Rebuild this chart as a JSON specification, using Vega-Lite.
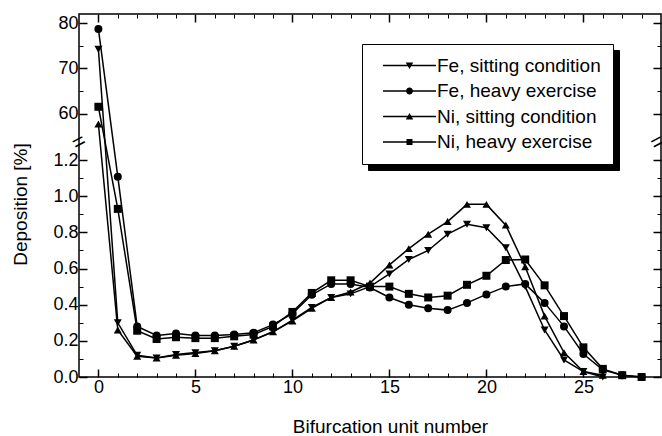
{
  "$schema": "https://vega.github.io/schema/vega-lite/v6.json",
  "width": 582,
  "height": 363,
  "autosize": {"type": "none"},
  "padding": {"left": 79, "top": 14, "right": 1, "bottom": 59},
  "background": "white",
  "config": {
    "font": "Liberation Sans",
    "view": {"stroke": "black", "strokeWidth": 1.5},
    "axis": {
      "grid": false,
      "domain": false,
      "tickColor": "black",
      "labelColor": "black",
      "titleColor": "black",
      "labelFont": "Liberation Sans",
      "titleFont": "Liberation Sans",
      "labelFontSize": 18,
      "titleFontSize": 19,
      "titleFontWeight": "normal"
    }
  },
  "datasets": {
    "series": [
      {"series": "Fe, sitting condition", "x": 0, "y": 74.2},
      {"series": "Fe, sitting condition", "x": 1, "y": 0.30},
      {"series": "Fe, sitting condition", "x": 2, "y": 0.12},
      {"series": "Fe, sitting condition", "x": 3, "y": 0.105},
      {"series": "Fe, sitting condition", "x": 4, "y": 0.125},
      {"series": "Fe, sitting condition", "x": 5, "y": 0.135},
      {"series": "Fe, sitting condition", "x": 6, "y": 0.145},
      {"series": "Fe, sitting condition", "x": 7, "y": 0.17},
      {"series": "Fe, sitting condition", "x": 8, "y": 0.205},
      {"series": "Fe, sitting condition", "x": 9, "y": 0.25},
      {"series": "Fe, sitting condition", "x": 10, "y": 0.315},
      {"series": "Fe, sitting condition", "x": 11, "y": 0.385},
      {"series": "Fe, sitting condition", "x": 12, "y": 0.44},
      {"series": "Fe, sitting condition", "x": 13, "y": 0.46},
      {"series": "Fe, sitting condition", "x": 14, "y": 0.50},
      {"series": "Fe, sitting condition", "x": 15, "y": 0.57},
      {"series": "Fe, sitting condition", "x": 16, "y": 0.65},
      {"series": "Fe, sitting condition", "x": 17, "y": 0.70},
      {"series": "Fe, sitting condition", "x": 18, "y": 0.79},
      {"series": "Fe, sitting condition", "x": 19, "y": 0.845},
      {"series": "Fe, sitting condition", "x": 20, "y": 0.826},
      {"series": "Fe, sitting condition", "x": 21, "y": 0.715},
      {"series": "Fe, sitting condition", "x": 22, "y": 0.50},
      {"series": "Fe, sitting condition", "x": 23, "y": 0.26},
      {"series": "Fe, sitting condition", "x": 24, "y": 0.094},
      {"series": "Fe, sitting condition", "x": 25, "y": 0.03},
      {"series": "Fe, sitting condition", "x": 26, "y": 0.0},
      {"series": "Fe, heavy exercise", "x": 0, "y": 78.7},
      {"series": "Fe, heavy exercise", "x": 1, "y": 1.108},
      {"series": "Fe, heavy exercise", "x": 2, "y": 0.28},
      {"series": "Fe, heavy exercise", "x": 3, "y": 0.23},
      {"series": "Fe, heavy exercise", "x": 4, "y": 0.24},
      {"series": "Fe, heavy exercise", "x": 5, "y": 0.23},
      {"series": "Fe, heavy exercise", "x": 6, "y": 0.23},
      {"series": "Fe, heavy exercise", "x": 7, "y": 0.235},
      {"series": "Fe, heavy exercise", "x": 8, "y": 0.245},
      {"series": "Fe, heavy exercise", "x": 9, "y": 0.29},
      {"series": "Fe, heavy exercise", "x": 10, "y": 0.35},
      {"series": "Fe, heavy exercise", "x": 11, "y": 0.455},
      {"series": "Fe, heavy exercise", "x": 12, "y": 0.515},
      {"series": "Fe, heavy exercise", "x": 13, "y": 0.515},
      {"series": "Fe, heavy exercise", "x": 14, "y": 0.495},
      {"series": "Fe, heavy exercise", "x": 15, "y": 0.44},
      {"series": "Fe, heavy exercise", "x": 16, "y": 0.40},
      {"series": "Fe, heavy exercise", "x": 17, "y": 0.38},
      {"series": "Fe, heavy exercise", "x": 18, "y": 0.37},
      {"series": "Fe, heavy exercise", "x": 19, "y": 0.41},
      {"series": "Fe, heavy exercise", "x": 20, "y": 0.457},
      {"series": "Fe, heavy exercise", "x": 21, "y": 0.50},
      {"series": "Fe, heavy exercise", "x": 22, "y": 0.515},
      {"series": "Fe, heavy exercise", "x": 23, "y": 0.41},
      {"series": "Fe, heavy exercise", "x": 24, "y": 0.28},
      {"series": "Fe, heavy exercise", "x": 25, "y": 0.127},
      {"series": "Fe, heavy exercise", "x": 26, "y": 0.04},
      {"series": "Fe, heavy exercise", "x": 27, "y": 0.01},
      {"series": "Fe, heavy exercise", "x": 28, "y": 0.0},
      {"series": "Ni, sitting condition", "x": 0, "y": 57.7},
      {"series": "Ni, sitting condition", "x": 1, "y": 0.26},
      {"series": "Ni, sitting condition", "x": 2, "y": 0.115},
      {"series": "Ni, sitting condition", "x": 3, "y": 0.105},
      {"series": "Ni, sitting condition", "x": 4, "y": 0.12},
      {"series": "Ni, sitting condition", "x": 5, "y": 0.13},
      {"series": "Ni, sitting condition", "x": 6, "y": 0.145},
      {"series": "Ni, sitting condition", "x": 7, "y": 0.17},
      {"series": "Ni, sitting condition", "x": 8, "y": 0.205},
      {"series": "Ni, sitting condition", "x": 9, "y": 0.25},
      {"series": "Ni, sitting condition", "x": 10, "y": 0.31},
      {"series": "Ni, sitting condition", "x": 11, "y": 0.38},
      {"series": "Ni, sitting condition", "x": 12, "y": 0.44},
      {"series": "Ni, sitting condition", "x": 13, "y": 0.47},
      {"series": "Ni, sitting condition", "x": 14, "y": 0.52},
      {"series": "Ni, sitting condition", "x": 15, "y": 0.62},
      {"series": "Ni, sitting condition", "x": 16, "y": 0.71},
      {"series": "Ni, sitting condition", "x": 17, "y": 0.79},
      {"series": "Ni, sitting condition", "x": 18, "y": 0.86},
      {"series": "Ni, sitting condition", "x": 19, "y": 0.955},
      {"series": "Ni, sitting condition", "x": 20, "y": 0.955},
      {"series": "Ni, sitting condition", "x": 21, "y": 0.84},
      {"series": "Ni, sitting condition", "x": 22, "y": 0.61},
      {"series": "Ni, sitting condition", "x": 23, "y": 0.337},
      {"series": "Ni, sitting condition", "x": 24, "y": 0.135},
      {"series": "Ni, sitting condition", "x": 25, "y": 0.03},
      {"series": "Ni, sitting condition", "x": 26, "y": 0.01},
      {"series": "Ni, heavy exercise", "x": 0, "y": 61.5},
      {"series": "Ni, heavy exercise", "x": 1, "y": 0.93},
      {"series": "Ni, heavy exercise", "x": 2, "y": 0.256},
      {"series": "Ni, heavy exercise", "x": 3, "y": 0.21},
      {"series": "Ni, heavy exercise", "x": 4, "y": 0.22},
      {"series": "Ni, heavy exercise", "x": 5, "y": 0.215},
      {"series": "Ni, heavy exercise", "x": 6, "y": 0.215},
      {"series": "Ni, heavy exercise", "x": 7, "y": 0.225},
      {"series": "Ni, heavy exercise", "x": 8, "y": 0.235},
      {"series": "Ni, heavy exercise", "x": 9, "y": 0.28},
      {"series": "Ni, heavy exercise", "x": 10, "y": 0.36},
      {"series": "Ni, heavy exercise", "x": 11, "y": 0.465},
      {"series": "Ni, heavy exercise", "x": 12, "y": 0.535},
      {"series": "Ni, heavy exercise", "x": 13, "y": 0.535},
      {"series": "Ni, heavy exercise", "x": 14, "y": 0.50},
      {"series": "Ni, heavy exercise", "x": 15, "y": 0.50},
      {"series": "Ni, heavy exercise", "x": 16, "y": 0.46},
      {"series": "Ni, heavy exercise", "x": 17, "y": 0.44},
      {"series": "Ni, heavy exercise", "x": 18, "y": 0.45},
      {"series": "Ni, heavy exercise", "x": 19, "y": 0.51},
      {"series": "Ni, heavy exercise", "x": 20, "y": 0.56},
      {"series": "Ni, heavy exercise", "x": 21, "y": 0.647},
      {"series": "Ni, heavy exercise", "x": 22, "y": 0.65},
      {"series": "Ni, heavy exercise", "x": 23, "y": 0.507},
      {"series": "Ni, heavy exercise", "x": 24, "y": 0.337},
      {"series": "Ni, heavy exercise", "x": 25, "y": 0.164},
      {"series": "Ni, heavy exercise", "x": 26, "y": 0.045},
      {"series": "Ni, heavy exercise", "x": 27, "y": 0.01},
      {"series": "Ni, heavy exercise", "x": 28, "y": 0.0}
    ],
    "breaks": [
      {"x": -1, "y": 1.3, "symbol": "="},
      {"x": 28.82, "y": 1.3, "symbol": "="}
    ]
  },
  "data": {"name": "series"},
  "layer": [
    {
      "transform": [{"filter": "datum.x < -100"}],
      "mark": {"type": "point", "filled": true},
      "encoding": {
        "x": {"field": "x", "type": "quantitative", "axis": null},
        "y": {"field": "y", "type": "quantitative", "axis": null},
        "color": {"field": "series", "type": "nominal",
          "scale": {"domain": ["Fe, sitting condition ", "Fe, heavy exercise ", "Ni, sitting condition ", "Ni, heavy exercise "], "range": ["black", "black", "black", "black"]},
          "legend": {
            "title": null,
            "orient": "none",
            "legendX": 289,
            "legendY": 36,
            "padding": 12,
            "strokeColor": "black",
            "fillColor": "black",
            "symbolSize": 100,
            "symbolOffset": 26,
            "labelOffset": 182,
            "labelFontSize": 19,
            "labelFont": "Liberation Sans",
            "labelColor": "black",
            "labelLimit": 400,
            "labelExpr": "''",
            "rowPadding": 5.5
          }}
      }
    },
    {
      "mark": {"type": "line", "color": "black", "strokeWidth": 1.5},
      "encoding": {
        "x": {"field": "x", "type": "quantitative",
          "scale": {"domain": [-1, 29], "nice": false, "zero": false},
          "axis": {"orient": "bottom", "title": "Bifurcation unit number", "values": [0, 5, 10, 15, 20, 25], "tickSize": -8, "tickWidth": 1.5, "labelPadding": 9, "titleX": 311, "titleY": 49, "titleBaseline": "middle"}},
        "y": {"field": "y", "type": "quantitative",
          "scale": {"domain": [0, 1.3, 54.6, 82], "range": [363, 128, 124, 0], "nice": false, "zero": false},
          "axis": {"orient": "left", "title": "Deposition [%]", "values": [0, 0.2, 0.4, 0.6, 0.8, 1.0, 1.2, 60, 70, 80], "labelExpr": "datum.value >= 50 ? format(datum.value, 'd') : format(datum.value, '.1f')", "tickSize": -8, "tickWidth": 1.5, "labelPadding": 9, "titleX": -59, "titleY": 190, "titleBaseline": "middle"}},
        "detail": {"field": "series"}
      }
    },
    {
      "mark": {"type": "point", "filled": true, "color": "black", "opacity": 1, "size": 64},
      "encoding": {
        "x": {"field": "x", "type": "quantitative", "axis": {"orient": "bottom", "values": [1,2,3,4,6,7,8,9,11,12,13,14,16,17,18,19,21,22,23,24,26,27,28], "tickSize": -4, "labels": false, "title": null}},
        "y": {"field": "y", "type": "quantitative", "axis": {"orient": "left", "values": [0.1, 0.3, 0.5, 0.7, 0.9, 1.1, 65, 75], "tickSize": -4, "labels": false, "title": null}},
        "shape": {"field": "series", "type": "nominal", "legend": null,
          "scale": {"domain": ["Fe, sitting condition", "Fe, heavy exercise", "Ni, sitting condition", "Ni, heavy exercise"], "range": ["triangle-down", "circle", "triangle-up", "square"]}}
      }
    },
    {
      "transform": [{"filter": "datum.x < -100"}],
      "mark": {"type": "point", "filled": true, "color": "black", "opacity": 1},
      "encoding": {
        "x": {"field": "x", "type": "quantitative", "axis": {"orient": "top", "values": [0, 5, 10, 15, 20, 25], "tickSize": -8, "tickWidth": 1.5, "labels": false, "title": null}},
        "y": {"field": "y", "type": "quantitative", "axis": {"orient": "right", "values": [0, 0.2, 0.4, 0.6, 0.8, 1.0, 1.2, 60, 70, 80], "tickSize": -8, "tickWidth": 1.5, "labels": false, "title": null}},
        "shape": {"field": "series", "type": "nominal",
          "scale": {"domain": ["Fe, sitting condition", "Fe, heavy exercise", "Ni, sitting condition", "Ni, heavy exercise"],
            "range": [
              "M-5.3,-0.15H5.3V0.15H-5.3ZM-0.75,-0.6L0.75,-0.6L0,0.7Z",
              "M-5.3,-0.15H5.3V0.15H-5.3ZM-0.7,0A0.7,0.7,0,1,1,0.7,0A0.7,0.7,0,1,1,-0.7,0Z",
              "M-5.3,-0.15H5.3V0.15H-5.3ZM0.75,0.6L-0.75,0.6L0,-0.7Z",
              "M-5.3,-0.15H5.3V0.15H-5.3ZM-0.6,-0.6H0.6V0.6H-0.6Z"
            ]},
          "legend": {
            "title": null,
            "orient": "none",
            "legendX": 283,
            "legendY": 30,
            "padding": 12,
            "strokeColor": "black",
            "fillColor": "white",
            "symbolSize": 100,
            "symbolStrokeWidth": 0,
            "symbolFillColor": "black",
            "symbolOffset": 26,
            "labelOffset": 18,
            "labelFontSize": 19,
            "labelFont": "Liberation Sans",
            "labelColor": "black",
            "labelLimit": 400,
            "rowPadding": 5.5
          }}
      }
    },
    {
      "transform": [{"filter": "datum.x < -100"}],
      "mark": {"type": "point"},
      "encoding": {
        "x": {"field": "x", "type": "quantitative", "axis": {"orient": "top", "values": [1,2,3,4,6,7,8,9,11,12,13,14,16,17,18,19,21,22,23,24,26,27,28], "tickSize": -4, "labels": false, "title": null}},
        "y": {"field": "y", "type": "quantitative", "axis": {"orient": "right", "values": [0.1, 0.3, 0.5, 0.7, 0.9, 1.1, 65, 75], "tickSize": -4, "labels": false, "title": null}}
      }
    },
    {
      "data": {"name": "breaks"},
      "mark": {"type": "text", "color": "black", "fontSize": 22, "angle": -28, "baseline": "middle", "align": "center", "font": "Liberation Sans", "clip": false},
      "encoding": {
        "x": {"field": "x", "type": "quantitative", "axis": null},
        "y": {"field": "y", "type": "quantitative", "axis": null},
        "text": {"field": "symbol"}
      }
    }
  ],
  "resolve": {"axis": {"x": "independent", "y": "independent"}, "scale": {"shape": "independent", "color": "independent"}}
}
